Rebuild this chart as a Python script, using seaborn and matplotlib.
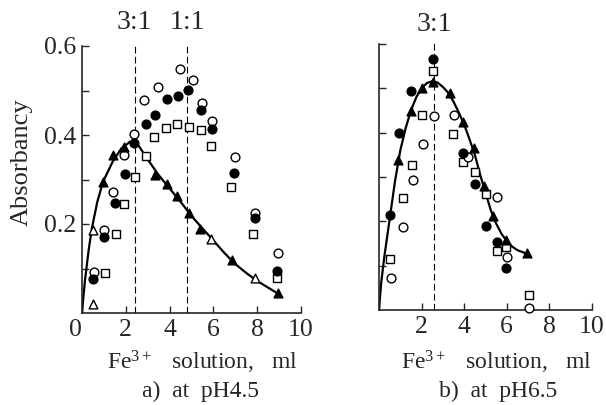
import matplotlib
matplotlib.use("Agg")
import matplotlib.pyplot as plt
import seaborn as sns
import numpy as np

# ---------------- data: panel a) pH 4.5 ----------------
a_open_circ_x = [0.55, 1.0, 1.42, 1.92, 2.37, 2.83, 3.46, 4.47, 5.05, 5.47, 5.92, 6.98, 7.9, 8.95]
a_open_circ_y = [0.092, 0.186, 0.272, 0.355, 0.402, 0.479, 0.508, 0.548, 0.524, 0.472, 0.432, 0.35, 0.224, 0.135]
a_fill_circ_x = [0.5, 1.0, 1.5, 1.96, 2.37, 2.92, 3.33, 3.9, 4.4, 4.85, 5.42, 5.92, 6.95, 7.9, 8.9]
a_fill_circ_y = [0.076, 0.171, 0.247, 0.312, 0.382, 0.424, 0.446, 0.48, 0.488, 0.501, 0.456, 0.413, 0.314, 0.213, 0.094]
a_square_x = [1.05, 1.54, 1.93, 2.42, 2.92, 3.29, 3.82, 4.33, 4.9, 5.42, 5.9, 6.8, 7.8, 8.9]
a_square_y = [0.09, 0.177, 0.245, 0.306, 0.353, 0.395, 0.415, 0.424, 0.419, 0.411, 0.375, 0.283, 0.177, 0.079]
a_fill_tri_x = [0.96, 1.42, 1.92, 3.33, 3.87, 4.35, 4.9, 5.4, 6.83, 8.93]
a_fill_tri_y = [0.294, 0.355, 0.373, 0.31, 0.29, 0.263, 0.224, 0.189, 0.119, 0.045]
a_open_tri_x = [0.5, 0.5, 5.9, 7.9]
a_open_tri_y = [0.186, 0.02, 0.166, 0.079]
a_curve_x = [0.0, 0.07, 0.14, 0.3, 0.45, 0.7, 0.96, 1.4, 1.8, 2.2, 2.6, 3.0, 3.5, 4.0, 4.5,
             5.0, 5.5, 6.0, 6.5, 7.0, 7.5, 8.0, 8.5, 9.0]
a_curve_y = [0.0, 0.04, 0.075, 0.14, 0.19, 0.25, 0.295, 0.34, 0.37, 0.385, 0.375, 0.345, 0.31,
             0.28, 0.25, 0.218, 0.19, 0.163, 0.135, 0.11, 0.09, 0.072, 0.057, 0.042]
a_ratio_x = [2.4, 4.8]
a_ratio_labels = ["3:1", "1:1"]

# ---------------- data: panel b) pH 6.5 ----------------
b_open_circ_x = [0.58, 1.11, 1.61, 2.07, 2.56, 3.52, 4.16, 5.56, 6.03, 7.02]
b_open_circ_y = [0.073, 0.188, 0.293, 0.374, 0.438, 0.439, 0.345, 0.254, 0.119, 0.005]
b_fill_circ_x = [0.53, 0.96, 1.49, 2.53, 3.93, 4.5, 5.02, 5.53, 5.98]
b_fill_circ_y = [0.214, 0.399, 0.493, 0.567, 0.354, 0.284, 0.19, 0.153, 0.095]
b_square_x = [0.5, 1.11, 1.54, 2.0, 2.53, 3.47, 3.93, 4.53, 5.0, 5.53, 5.98, 7.05]
b_square_y = [0.115, 0.252, 0.326, 0.44, 0.54, 0.397, 0.333, 0.312, 0.262, 0.132, 0.142, 0.034]
b_fill_tri_x = [0.88, 1.49, 2.0, 2.53, 3.35, 3.96, 4.46, 4.92, 5.37, 5.98, 6.93]
b_fill_tri_y = [0.339, 0.449, 0.5, 0.515, 0.489, 0.424, 0.365, 0.28, 0.211, 0.158, 0.129]
b_curve_x = [0.0, 0.1, 0.25, 0.5, 0.75, 1.0, 1.25, 1.5, 1.75, 2.0, 2.25, 2.5, 2.75, 3.0, 3.25,
             3.5, 3.75, 4.0, 4.25, 4.5, 4.75, 5.0, 5.25, 5.5, 5.75, 6.0, 6.25, 6.5, 6.93]
b_curve_y = [0.0, 0.06, 0.12, 0.205, 0.29, 0.36, 0.41, 0.45, 0.48, 0.5, 0.512, 0.516, 0.513,
             0.503, 0.49, 0.47, 0.445, 0.418, 0.385, 0.35, 0.305, 0.265, 0.225, 0.195, 0.172,
             0.155, 0.143, 0.135, 0.127]
b_ratio_x = [2.6]
b_ratio_labels = ["3:1"]

x_ticks = [0, 2, 4, 6, 8, 10]
y_major = [0.2, 0.4, 0.6]
y_minor = [0.1, 0.3, 0.5]

# ---------------- style ----------------
sns.set_style("ticks")
plt.rcParams["font.family"] = ["Liberation Serif", "DejaVu Serif"]
plt.rcParams["mathtext.fontset"] = "custom"
plt.rcParams["mathtext.rm"] = "Liberation Serif"
plt.rcParams["mathtext.it"] = "Liberation Serif:italic"

fig = plt.figure(figsize=(6.06, 4.05), dpi=100)
W, H = 606, 405
ax1 = fig.add_axes([82 / W, (H - 313) / H, 219 / W, 267 / H])
ax2 = fig.add_axes([379 / W, (H - 310) / H, 213 / W, 266 / H])

MS = 40
LW = 1.0


def draw(ax, oc, fc, sq, ft, ot, curve, ratio_x, ratio_labels, ratio_y):
    sns.lineplot(x=curve[0], y=curve[1], sort=False, estimator=None, color="black",
                 linewidth=1.6, ax=ax, zorder=2)
    for xs, ys, mk, face in [(sq[0], sq[1], "s", "white"),
                             (oc[0], oc[1], "o", "white"),
                             (fc[0], fc[1], "o", "black"),
                             (ft[0], ft[1], "^", "black"),
                             (ot[0], ot[1], "^", "white")]:
        if len(xs) == 0:
            continue
        sns.scatterplot(x=xs, y=ys, marker=mk, s=MS, color=face, edgecolor="black",
                        linewidth=LW, ax=ax, zorder=3, clip_on=False)
    for rx, rl in zip(ratio_x, ratio_labels):
        ax.axvline(rx, ymin=0, ymax=1.01, color="black", linestyle=(0, (6, 3)),
                   linewidth=0.8, clip_on=False, zorder=1)
        ax.text(rx, ratio_y, rl, ha="center", va="center", fontsize=20)
    ax.set_xlim(0, 10)
    ax.set_ylim(0, 0.6)
    sns.despine(ax=ax)
    for s in ["left", "bottom"]:
        ax.spines[s].set_linewidth(1.2)
    ax.set_xticks(x_ticks)
    ax.set_yticks(y_major)
    ax.set_yticks(y_minor, minor=True)
    ax.tick_params(axis="both", which="both", direction="in", length=5, width=1.0,
                   labelsize=18.5, pad=4)
    ax.set_xlabel("")
    ax.set_ylabel("")


draw(ax1,
     (a_open_circ_x, a_open_circ_y), (a_fill_circ_x, a_fill_circ_y),
     (a_square_x, a_square_y), (a_fill_tri_x, a_fill_tri_y),
     (a_open_tri_x, a_open_tri_y), (a_curve_x, a_curve_y),
     a_ratio_x, a_ratio_labels, 0.652)
draw(ax2,
     (b_open_circ_x, b_open_circ_y), (b_fill_circ_x, b_fill_circ_y),
     (b_square_x, b_square_y), (b_fill_tri_x, b_fill_tri_y),
     ([], []), (b_curve_x, b_curve_y),
     b_ratio_x, b_ratio_labels, 0.643)

ax1.set_xticklabels([str(t) for t in x_ticks])
ax1.get_xticklabels()[0].set_horizontalalignment("right")
ax1.set_yticklabels(["0.2", "0.4", "0.6"])
ax2.set_xticklabels([""] + [str(t) for t in x_ticks[1:]])
ax2.set_yticklabels([])

fig.text(22 / W, 1 - 162 / H, "Absorbancy", rotation=90, ha="center", va="center",
         fontsize=19)
fig.text(202 / W, 1 - 362 / H, "Fe$^{3+}$   solution,   ml", ha="center", va="center",
         fontsize=17)
fig.text(200 / W, 1 - 391 / H, "a)  at  pH4.5", ha="center", va="center", fontsize=17)
fig.text(496 / W, 1 - 362 / H, "Fe$^{3+}$   solution,   ml", ha="center", va="center",
         fontsize=17)
fig.text(498 / W, 1 - 391 / H, "b)  at  pH6.5", ha="center", va="center", fontsize=17)

fig.savefig("out.png", dpi=100)
